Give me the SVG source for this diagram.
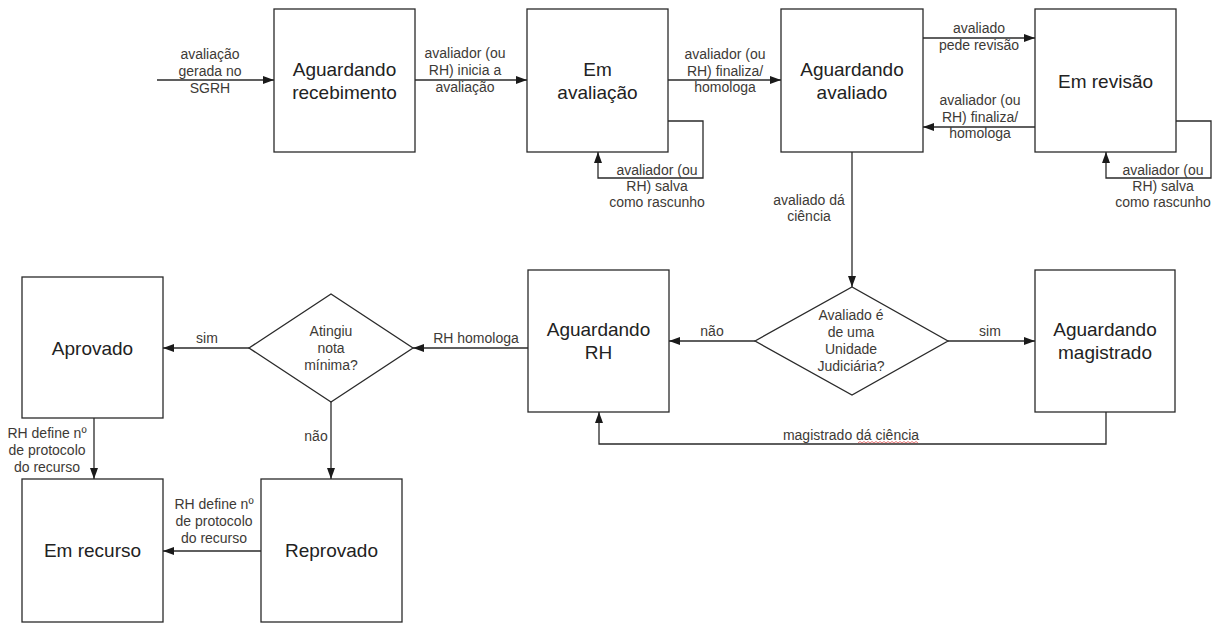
<svg xmlns="http://www.w3.org/2000/svg" width="1220" height="623" viewBox="0 0 1220 623">
<defs>
<marker id="arr" markerWidth="11" markerHeight="8" refX="11" refY="4" orient="auto" markerUnits="userSpaceOnUse"><path d="M0,0 L11,4 L0,8 z" fill="#1a1a1a"/></marker>
<style>
.box{fill:#fff;stroke:#2a2a2a;stroke-width:1.3}
.conn path{fill:none;stroke:#2a2a2a;stroke-width:1.3;marker-end:url(#arr)}
.t{font-family:"Liberation Sans",Arial,sans-serif;font-size:19px;fill:#222;text-anchor:middle}
.l{font-family:"Liberation Sans",Arial,sans-serif;font-size:14px;fill:#3d3a36;text-anchor:middle}
</style>
</defs>
<rect width="1220" height="623" fill="#fff"/>

<g id="recebimento"><rect class="box" x="274" y="9" width="141" height="143"/><text class="t" x="344.5" y="76">Aguardando</text><text class="t" x="344.5" y="99">recebimento</text></g>
<g id="em-avaliacao"><rect class="box" x="527" y="9" width="141" height="143"/><text class="t" x="597.5" y="76">Em</text><text class="t" x="597.5" y="99">avaliação</text></g>
<g id="aguardando-avaliado"><rect class="box" x="781" y="9" width="142" height="143"/><text class="t" x="852" y="76">Aguardando</text><text class="t" x="852" y="99">avaliado</text></g>
<g id="em-revisao"><rect class="box" x="1035" y="9" width="141" height="143"/><text class="t" x="1105.5" y="88">Em revisão</text></g>
<g id="aprovado"><rect class="box" x="22" y="277" width="141" height="141"/><text class="t" x="92.5" y="355">Aprovado</text></g>
<g id="aguardando-rh"><rect class="box" x="528" y="270" width="141" height="142"/><text class="t" x="598.5" y="336">Aguardando</text><text class="t" x="598.5" y="359">RH</text></g>
<g id="aguardando-magistrado"><rect class="box" x="1035" y="270" width="140" height="142"/><text class="t" x="1105" y="336">Aguardando</text><text class="t" x="1105" y="359">magistrado</text></g>
<g id="em-recurso"><rect class="box" x="22" y="479" width="141" height="143"/><text class="t" x="92.5" y="557">Em recurso</text></g>
<g id="reprovado"><rect class="box" x="261" y="479" width="141" height="143"/><text class="t" x="331.5" y="557">Reprovado</text></g>
<g id="atingiu"><polygon class="box" points="249,348 331,294 413,348 331,402"/><text class="l" x="331" y="336">Atingiu</text><text class="l" x="331" y="353">nota</text><text class="l" x="331" y="370">mínima?</text></g>
<g id="unidade-judiciaria"><polygon class="box" points="755,341 852,287 948,341 852,395"/><text class="l" x="851" y="320">Avaliado é</text><text class="l" x="851" y="337">de uma</text><text class="l" x="851" y="354">Unidade</text><text class="l" x="851" y="371">Judiciária?</text></g>

<g id="connectors" class="conn">
<path d="M157,80 H274"/>
<path d="M415,80 H527"/>
<path d="M668,80 H781"/>
<path d="M668,121 H703 V178 H598 V152"/>
<path d="M923,38 H1035"/>
<path d="M1035,127 H923"/>
<path d="M1176,121 H1211 V178 H1106 V152"/>
<path d="M852,152 V287"/>
<path d="M755,341 H669"/>
<path d="M948,341 H1035"/>
<path d="M1106,412 V444 H599 V412"/>
<path d="M528,348 H413"/>
<path d="M249,348 H163"/>
<path d="M331,402 V479"/>
<path d="M94,418 V479"/>
<path d="M261,551 H163"/>
</g>

<g id="labels">
<text class="l" x="210" y="59">avaliação</text><text class="l" x="210" y="76">gerada no</text><text class="l" x="210" y="93">SGRH</text>
<text class="l" x="465" y="58">avaliador (ou</text><text class="l" x="465" y="75">RH) inicia a</text><text class="l" x="465" y="92">avaliação</text>
<text class="l" x="725" y="59">avaliador (ou</text><text class="l" x="725" y="76">RH) finaliza/</text><text class="l" x="725" y="92">homologa</text>
<text class="l" x="657" y="175">avaliador (ou</text><text class="l" x="657" y="191">RH) salva</text><text class="l" x="657" y="207">como rascunho</text>
<text class="l" x="979" y="33">avaliado</text><text class="l" x="979" y="50">pede revisão</text>
<text class="l" x="980" y="105">avaliador (ou</text><text class="l" x="980" y="122">RH) finaliza/</text><text class="l" x="980" y="138">homologa</text>
<text class="l" x="1163" y="175">avaliador (ou</text><text class="l" x="1163" y="191">RH) salva</text><text class="l" x="1163" y="207">como rascunho</text>
<text class="l" x="809" y="205">avaliado dá</text><text class="l" x="809" y="221">ciência</text>
<text class="l" x="712" y="336">não</text>
<text class="l" x="990" y="336">sim</text>
<text class="l" x="851" y="440">magistrado dá ciência</text>
<text class="l" x="476" y="343">RH homologa</text>
<text class="l" x="207" y="343">sim</text>
<text class="l" x="316" y="441">não</text>
<text class="l" x="47" y="438">RH define nº</text><text class="l" x="47" y="455">de protocolo</text><text class="l" x="47" y="472">do recurso</text>
<text class="l" x="214" y="509">RH define nº</text><text class="l" x="214" y="526">de protocolo</text><text class="l" x="214" y="543">do recurso</text>
<path d="M858,443 l2,-1.5 l2,1.5 l2,-1.5 l2,1.5 l2,-1.5 l2,1.5 l2,-1.5 l2,1.5 l2,-1.5 l2,1.5 l2,-1.5 l2,1.5 l2,-1.5 l2,1.5 l2,-1.5 l2,1.5 l2,-1.5 l2,1.5 l2,-1.5 l2,1.5 l2,-1.5 l2,1.5 l2,-1.5 l2,1.5 l2,-1.5 l2,1.5 l2,-1.5 l2,1.5 l2,-1.5 l2,1.5" fill="none" stroke="#e05050" stroke-width="0.8"/>
</g>
</svg>
